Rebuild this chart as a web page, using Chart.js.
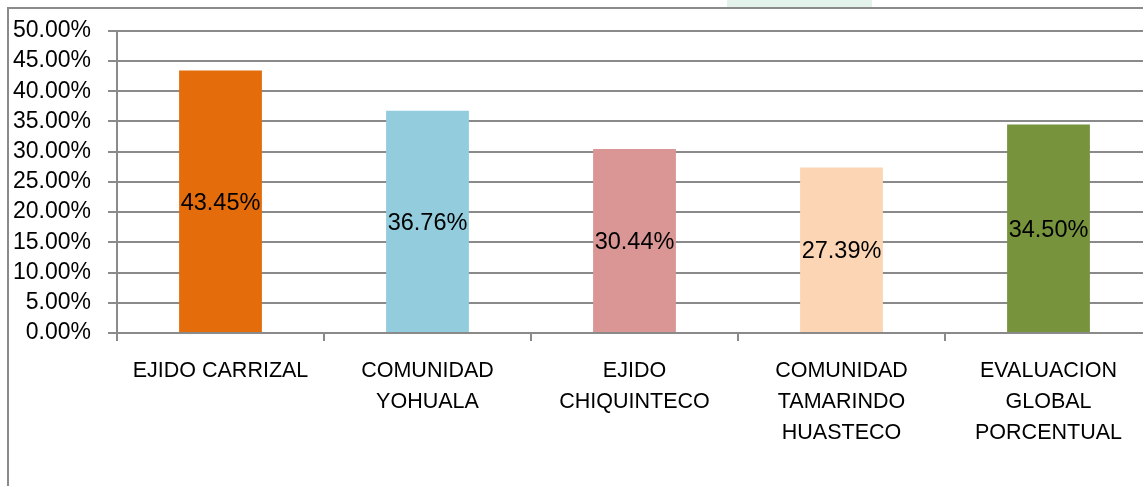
<!DOCTYPE html>
<html>
<head>
<meta charset="utf-8">
<script src="https://cdn.jsdelivr.net/npm/chart.js@4/dist/chart.umd.min.js"></script>
<style>
  html, body { margin: 0; padding: 0; background: #fff; overflow: hidden; }
  #wrap { position: relative; width: 1143px; height: 486px; overflow: hidden; }
  #frame { position: absolute; left: 7px; top: 7px; width: 1200px; height: 500px;
    border-left: 2px solid #8a8a8a; border-top: 2px solid #8a8a8a; }
  #tab { position: absolute; left: 727px; top: 0; width: 145px; height: 7px; background: #e4f2ec; }
  #box { position: absolute; left: 0; top: 0; width: 1160px; height: 486px; }
</style>
</head>
<body>
<div id="wrap">
  <div id="tab"></div>
  <div id="frame"></div>
  <div id="box"><canvas id="chart"></canvas></div>
</div>
<script>
const categories = [
  ['EJIDO CARRIZAL'],
  ['COMUNIDAD', 'YOHUALA'],
  ['EJIDO', 'CHIQUINTECO'],
  ['COMUNIDAD', 'TAMARINDO', 'HUASTECO'],
  ['EVALUACION', 'GLOBAL', 'PORCENTUAL']
];
const values = [43.45, 36.76, 30.44, 27.39, 34.50];
const barColors = ['#e46c0a', '#93cddd', '#d99694', '#fcd5b5', '#77933c'];
const yMax = 50;
const yStep = 5;

const FONT = '"Liberation Sans", Arial, sans-serif';

// draw value labels centred inside each bar
const barLabels = {
  id: 'barLabels',
  afterDatasetsDraw(chart) {
    const ctx = chart.ctx;
    const meta = chart.getDatasetMeta(0);
    ctx.save();
    ctx.font = '23.5px ' + FONT;
    ctx.fillStyle = '#000';
    ctx.textAlign = 'center';
    ctx.textBaseline = 'middle';
    meta.data.forEach((bar, i) => {
      const y = (bar.y + bar.base) / 2;
      ctx.fillText(values[i].toFixed(2) + '%', bar.x, y + 2);
    });
    ctx.restore();
  }
};

new Chart(document.getElementById('chart'), {
  type: 'bar',
  data: {
    labels: categories,
    datasets: [{
      data: values,
      backgroundColor: barColors,
      barPercentage: 0.4,
      categoryPercentage: 1.0
    }]
  },
  options: {
    responsive: true,
    maintainAspectRatio: false,
    animation: false,
    layout: { padding: { left: 0, right: 8, top: 30, bottom: 0 } },
    plugins: { legend: { display: false }, tooltip: { enabled: false } },
    scales: {
      x: {
        grid: { drawOnChartArea: false, drawTicks: true, tickLength: 8, color: '#8a8a8a', lineWidth: 2, offset: true },
        border: { display: true, color: '#8a8a8a', width: 2 },
        ticks: { color: '#000', font: { family: FONT, size: 21.5, lineHeight: 1.45 }, padding: 14, maxRotation: 0, autoSkip: false },
        afterFit(axis) { axis.height = 153; }
      },
      y: {
        min: 0,
        max: yMax,
        grid: { color: '#8a8a8a', lineWidth: 2, tickLength: 9 },
        border: { display: true, color: '#8a8a8a', width: 2 },
        ticks: {
          stepSize: yStep,
          autoSkip: false,
          color: '#000',
          font: { family: FONT, size: 23 },
          padding: 17,
          callback: v => v.toFixed(2) + '%'
        },
        afterFit(axis) { axis.width = 117; }
      }
    }
  },
  plugins: [barLabels]
});
</script>
</body>
</html>
